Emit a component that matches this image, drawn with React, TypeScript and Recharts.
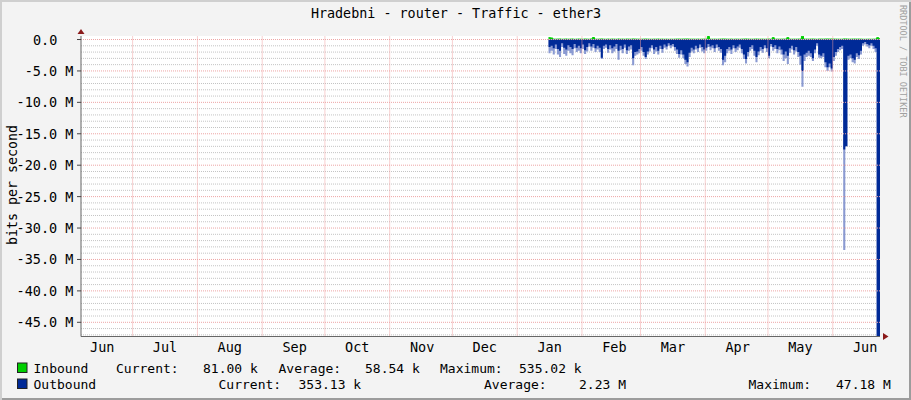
import { ComposedChart, Area, XAxis, YAxis, CartesianGrid, ReferenceLine } from 'recharts';

// x is counted in days from Jun 1 of the previous year
const START_DAY = 229;
const monthStarts = [30, 61, 92, 122, 153, 183, 214, 245, 273, 304, 334, 365];
const monthLabels = ['Jun', 'Jul', 'Aug', 'Sep', 'Oct', 'Nov', 'Dec', 'Jan', 'Feb', 'Mar', 'Apr', 'May', 'Jun'];
const monthLabelDays = [15.5, 45.5, 76.5, 107.5, 137.5, 168.5, 198.5, 229.5, 260.5, 288.5, 319.5, 349.5, 380.5];
const yTicks = [0, -5, -10, -15, -20, -25, -30, -35, -40, -45];

// outbound, solid part of each column (M bits/s)
const outboundCore = [
  1.2, 1.0, 1.4, 0.8, 1.5, 1.8, 0.6, 1.3, 1.6, 0.9,
  1.2, 1.5, 0.7, 1.3, 1.0, 1.4, 0.8, 1.7, 1.2, 0.6,
  1.1, 0.7, 1.4, 1.0, 1.3, 2.9, 1.0, 0.8, 1.5, 0.9,
  1.4, 1.1, 0.7, 1.8, 1.0, 1.5, 0.8, 1.7, 1.1, 0.9,
  3.0, 2.0, 1.9, 1.5, 1.2, 2.0, 2.8, 1.9, 1.3, 0.9,
  1.6, 1.2, 1.8, 1.0, 1.5, 0.8, 1.1, 0.6, 0.9, 0.7,
  1.2, 1.6, 2.3, 1.7, 2.4, 3.2, 3.6, 2.1, 1.3, 1.6,
  1.0, 1.4, 0.8, 1.2, 1.6, 1.3, 0.7, 1.1, 0.9, 1.4,
  0.8, 1.2, 1.5, 3.2, 2.6, 1.5, 1.2, 1.6, 0.9, 1.4,
  1.1, 0.8, 1.5, 2.4, 3.1, 2.0, 1.2, 0.9, 1.8, 2.8,
  1.9, 1.2, 1.5, 0.9, 1.4, 2.6, 0.7, 1.2, 0.9, 1.5,
  1.1, 1.6, 2.4, 1.9, 2.6, 1.4, 1.0, 1.7, 1.2, 2.0,
  2.6, 5.0, 2.4, 2.1, 1.8, 2.2, 3.0, 1.6, 0.6, 2.4,
  2.6, 2.2, 3.6, 4.4, 3.8, 4.6, 2.8, 2.0, 1.5, 1.2,
  1.0, 17.5, 17.0, 2.6, 2.4, 3.0, 3.2, 2.2, 2.5, 1.8,
  0.6, 0.4, 0.7, 0.9, 0.6, 1.0, 1.4, 47.18, 47.18, 47.18,
];

// outbound, faded tips of the columns (M bits/s)
const outboundPeak = [
  2.2, 1.8, 2.4, 1.5, 2.4, 2.8, 1.2, 2.3, 2.6, 1.8,
  2.2, 2.5, 1.4, 2.0, 1.8, 2.2, 1.5, 2.3, 1.9, 1.1,
  1.8, 1.3, 2.0, 1.6, 2.0, 3.1, 1.5, 1.3, 2.1, 1.6,
  2.2, 1.9, 1.5, 3.2, 1.7, 2.2, 1.3, 2.3, 1.8, 1.6,
  4.1, 2.6, 2.4, 2.2, 1.8, 2.6, 3.1, 2.4, 1.9, 1.4,
  2.3, 1.9, 2.4, 1.5, 2.1, 1.3, 1.6, 1.0, 1.4, 1.1,
  1.8, 2.3, 2.9, 2.4, 3.0, 3.9, 4.3, 2.8, 1.9, 2.2,
  1.6, 2.0, 1.3, 1.9, 2.2, 1.8, 1.2, 1.7, 1.4, 2.0,
  1.3, 1.8, 2.1, 4.1, 3.6, 2.2, 1.8, 2.3, 1.4, 2.0,
  1.7, 1.3, 2.2, 3.1, 3.8, 2.7, 1.8, 1.5, 2.6, 3.6,
  2.5, 1.8, 2.1, 1.4, 2.0, 3.0, 1.1, 1.8, 1.5, 2.2,
  1.7, 2.4, 3.4, 3.0, 3.9, 2.1, 1.6, 2.4, 1.9, 2.8,
  4.0, 7.5, 3.4, 2.8, 2.6, 2.8, 3.4, 2.2, 1.0, 2.9,
  3.0, 2.8, 4.4, 5.0, 4.4, 5.1, 3.4, 2.6, 2.0, 1.7,
  1.5, 33.5, 17.0, 3.2, 3.0, 3.6, 3.8, 2.8, 3.1, 2.4,
  1.0, 0.8, 1.1, 1.4, 1.0, 1.5, 2.0, 47.18, 47.18, 47.18,
];

// inbound (k bits/s)
const inbound = [
  300, 250, 60, 55, 70, 80, 45, 60, 75, 50,
  65, 80, 40, 55, 70, 60, 50, 75, 60, 45,
  90, 320, 60, 50, 70, 85, 55, 45, 65, 50,
  70, 60, 45, 80, 55, 65, 50, 70, 60, 55,
  85, 70, 60, 55, 50, 65, 75, 60, 50, 45,
  60, 55, 70, 50, 60, 45, 55, 40, 50, 45,
  55, 65, 70, 60, 75, 80, 85, 65, 55, 60,
  50, 60, 45, 55, 65, 60, 480, 55, 50, 60,
  45, 55, 65, 80, 75, 60, 55, 65, 45, 60,
  55, 45, 60, 70, 80, 65, 55, 50, 65, 75,
  60, 55, 60, 45, 55, 70, 45, 300, 50, 60,
  55, 60, 70, 65, 300, 55, 50, 60, 55, 65,
  75, 535, 70, 65, 60, 65, 75, 60, 45, 70,
  70, 65, 80, 85, 75, 80, 70, 60, 55, 50,
  50, 90, 85, 65, 60, 70, 75, 65, 70, 60,
  45, 40, 50, 55, 45, 60, 65, 300, 120, 81,
];

const data = outboundCore.map((v, i) => ({
  day: START_DAY + i,
  outCore: -v,
  outPeak: -outboundPeak[i],
  inb: inbound[i] / 1000,
}));

const minorLines = Array.from({ length: 48 }, (_, i) => -i).filter((v) => v % 5 !== 0);

const mono = "'DejaVu Sans Mono', monospace";

const YTick = ({ x, y, payload }: any) => {
  const v = payload.value;
  const label = v === 0 ? '0.0' : `${v.toFixed(1)} M`;
  return (
    <text x={v === 0 ? x - 16.2 : x} y={y} textAnchor="end" dominantBaseline="central" fontFamily={mono} fontSize={13.5} fill="#000">
      {label}
    </text>
  );
};

const XTick = ({ x, y, index }: any) => (
  <text x={x} y={y + 10.2} textAnchor="middle" dominantBaseline="central" fontFamily={mono} fontSize={13.5} fill="#000">
    {monthLabels[index] ?? ''}
  </text>
);

const legendRows = [
  { y: 368, color: '#00CF00', items: [[33.5, 'Inbound'], [116, 'Current:'], [203, '81.00 k'], [278.5, 'Average:'], [365, '58.54 k'], [440, 'Maximum:'], [519, '535.02 k']] },
  { y: 384, color: '#002A97', items: [[33.5, 'Outbound'], [218.5, 'Current:'], [298.5, '353.13 k'], [484, 'Average:'], [579, '2.23 M'], [748.5, 'Maximum:'], [836, '47.18 M']] },
];

export default function App() {
  return (
    <div
      style={{
        position: 'relative',
        width: 911,
        height: 400,
        background: '#f3f3f3',
        boxShadow: 'inset 2px 2px 0 #cfcfcf, inset -2px -2px 0 #9c9c9c',
      }}
    >
      <style>{'body{margin:0}'}</style>
      <ComposedChart width={911} height={400} data={data} margin={{ top: 36, right: 31, bottom: 0, left: 0 }}>
        <CartesianGrid fill="#fff" vertical={false} horizontalValues={minorLines} stroke="#c4c4c4" strokeDasharray="1 1" />
        {yTicks.map((t) => (
          <ReferenceLine key={'y' + t} y={t} stroke="#eda5a5" strokeDasharray="1 1" />
        ))}
        {monthStarts.map((d) => (
          <ReferenceLine key={'x' + d} x={d} stroke="#f0a0a0" strokeDasharray="1 1" />
        ))}
        <XAxis
          type="number"
          dataKey="day"
          domain={[5.3, 387.6]}
          allowDataOverflow
          ticks={monthLabelDays}
          interval={0}
          height={63.5}
          tickLine={false}
          tickSize={0}
          tickMargin={0}
          axisLine={{ stroke: '#666' }}
          tick={<XTick />}
        />
        <YAxis
          type="number"
          domain={[-47.26, 0.56]}
          allowDataOverflow
          ticks={yTicks}
          interval={0}
          width={81}
          tickSize={4}
          tickMargin={3.5}
          tickLine={{ stroke: '#444' }}
          axisLine={{ stroke: '#666' }}
          tick={<YTick />}
        />
        <Area type="stepAfter" dataKey="inb" baseValue={0} fill="#00CF00" fillOpacity={1} stroke="#00CF00" strokeWidth={1} isAnimationActive={false} />
        <Area type="stepAfter" dataKey="outPeak" baseValue={0} fill="#8a9ad2" fillOpacity={1} stroke="none" isAnimationActive={false} />
        <Area type="stepAfter" dataKey="outCore" baseValue={0} fill="#002A97" fillOpacity={1} stroke="none" isAnimationActive={false} />
      </ComposedChart>
      <svg width={911} height={400} style={{ position: 'absolute', left: 0, top: 0, pointerEvents: 'none' }}>
        <text x={456} y={13} textAnchor="middle" dominantBaseline="central" fontFamily={mono} fontSize={13.4} fill="#000">
          Hradebni - router - Traffic - ether3
        </text>
        <text transform="translate(12,185) rotate(-90)" textAnchor="middle" dominantBaseline="central" fontFamily={mono} fontSize={13.3} fill="#000">
          bits per second
        </text>
        <text transform="translate(903,5) rotate(90)" dominantBaseline="central" fontFamily={mono} fontSize={8.5} fill="#a0a0a0">
          RRDTOOL / TOBI OETIKER
        </text>
        <polygon points="77.5,34 84.5,34 81,29" fill="#8b1a1a" />
        <polygon points="883,333 883,340 888.5,336.5" fill="#8b1a1a" />
        {legendRows.map((row) => (
          <g key={row.y}>
            <rect x={17.5} y={row.y - 5} width={9.5} height={9.5} fill={row.color} stroke="#222" strokeWidth={1} />
            {row.items.map(([x, s]) => (
              <text key={String(x)} x={x as number} y={row.y} dominantBaseline="central" fontFamily={mono} fontSize={13} fill="#000">
                {s}
              </text>
            ))}
          </g>
        ))}
      </svg>
    </div>
  );
}
